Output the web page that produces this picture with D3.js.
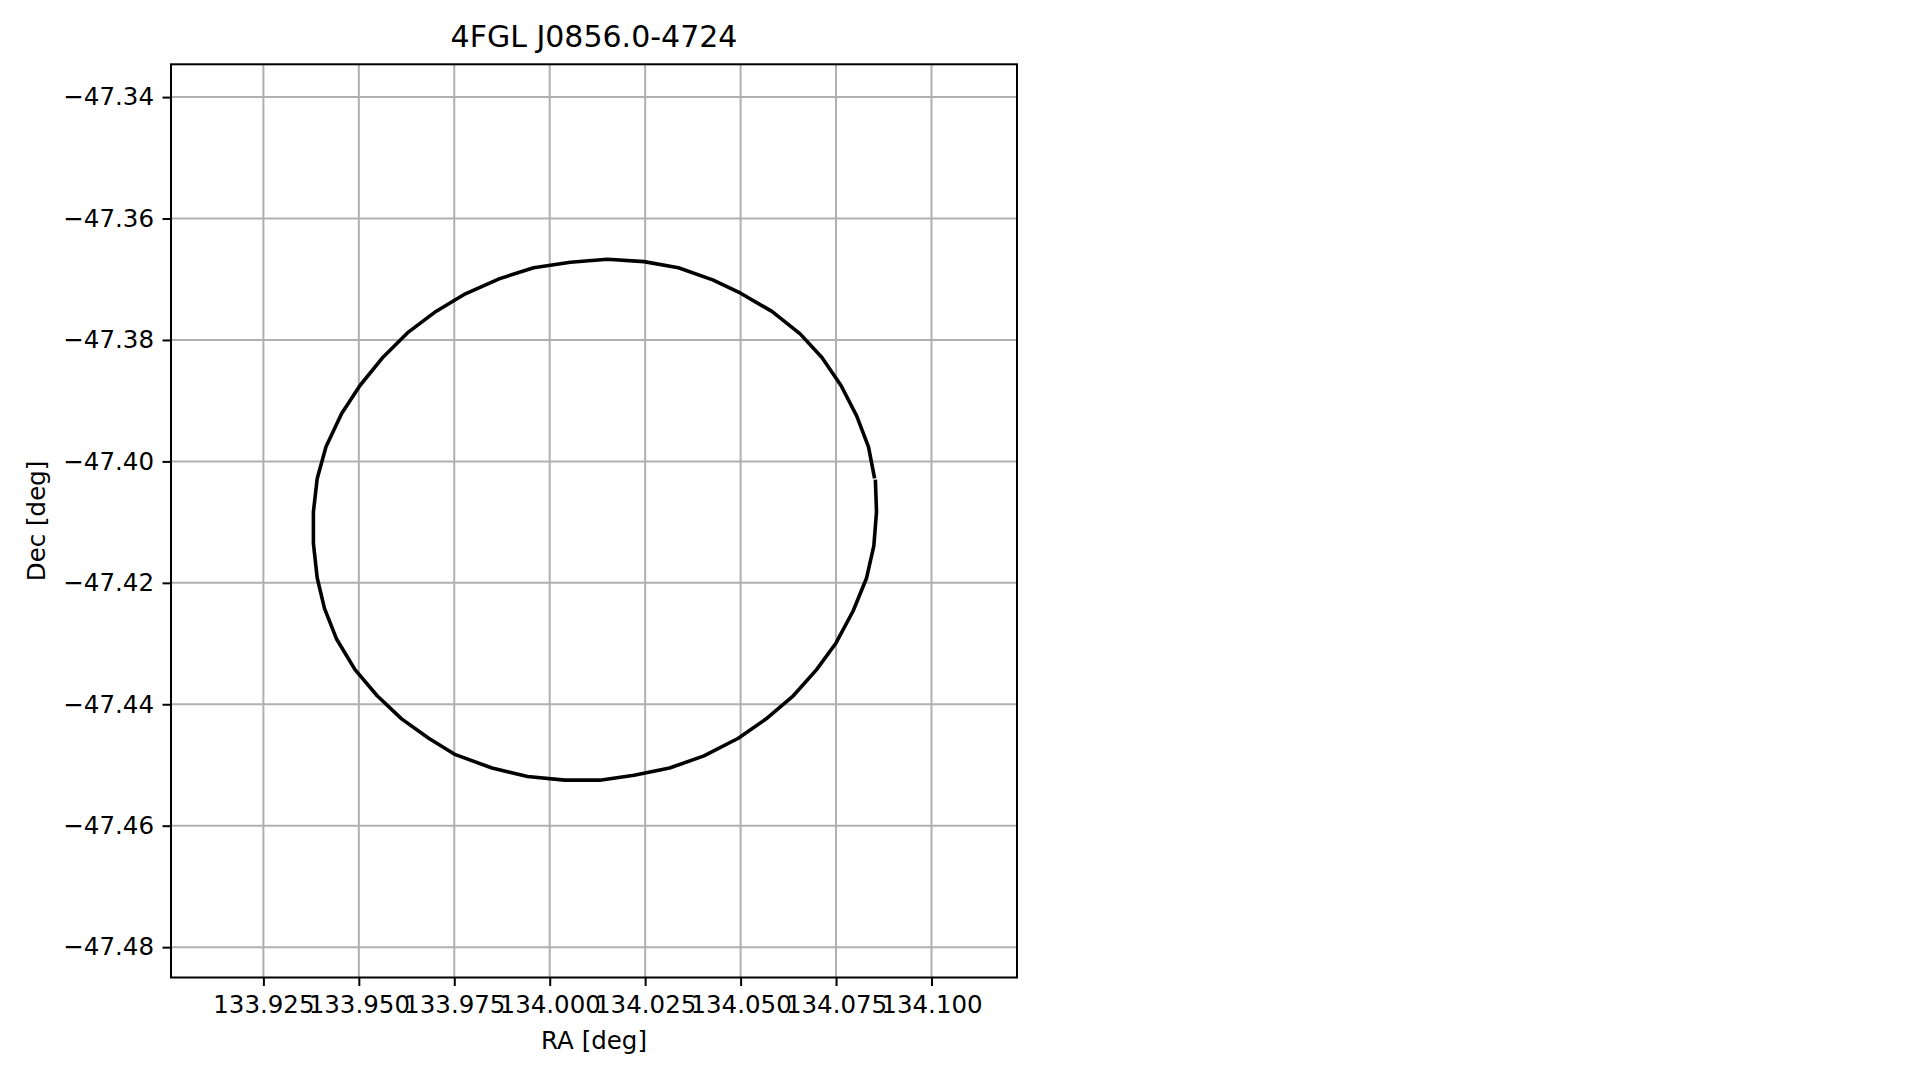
<!DOCTYPE html>
<html>
<head>
<meta charset="utf-8">
<script src="https://cdn.jsdelivr.net/npm/d3@7"></script>
<style>
  html, body { margin: 0; padding: 0; background: #ffffff; }
  svg { display: block; font-family: "DejaVu Sans", sans-serif; }
</style>
</head>
<body>
<svg id="chart" width="1919" height="1080"></svg>
<script>
// ---- data ----
const titleText = "4FGL J0856.0-4724";
const xLabelText = "RA [deg]";
const yLabelText = "Dec [deg]";

const xTicks = [133.925, 133.950, 133.975, 134.000, 134.025, 134.050, 134.075, 134.100];
const yTicks = [-47.34, -47.36, -47.38, -47.40, -47.42, -47.44, -47.46, -47.48];

const xDomain = [133.9008, 134.1224];
const yDomain = [-47.4850, -47.3346];

const raValues = [
  134.0851, 134.0835, 134.0804, 134.0763, 134.0713, 134.0656, 134.0582, 134.0500,
  134.0427, 134.0337, 134.0247, 134.0151, 134.0054, 133.9958, 133.9869, 133.9779,
  133.9702, 133.9628, 133.9564, 133.9503, 133.9455, 133.9414, 133.9391, 133.9381,
  133.9381, 133.9391, 133.9410, 133.9442, 133.9490, 133.9548, 133.9612, 133.9683,
  133.9753, 133.9849, 133.9942, 134.0039, 134.0131, 134.0221, 134.0314, 134.0404,
  134.0494, 134.0567, 134.0638, 134.0699, 134.0750, 134.0795, 134.0830, 134.0849,
  134.0856, 134.0853
];
const decValues = [
  -47.4028, -47.3976, -47.3925, -47.3875, -47.3829, -47.3790, -47.3753, -47.3723,
  -47.3701, -47.3681, -47.3671, -47.3667, -47.3672, -47.3681, -47.3699, -47.3724,
  -47.3753, -47.3788, -47.3828, -47.3875, -47.3921, -47.3976, -47.4028, -47.4083,
  -47.4135, -47.4192, -47.4242, -47.4293, -47.4343, -47.4386, -47.4424, -47.4456,
  -47.4483, -47.4505, -47.4519, -47.4525, -47.4525, -47.4517, -47.4505, -47.4485,
  -47.4456, -47.4424, -47.4386, -47.4343, -47.4299, -47.4246, -47.4192, -47.4139,
  -47.4083, -47.4030
];

// ---- layout ----
const plot = { left: 171, top: 64.3, right: 1017, bottom: 977.5 };
const tickFont = 24.5;

const svg = d3.select("#chart");
svg.append("rect").attr("width", 1919).attr("height", 1080).attr("fill", "#ffffff");

const x = d3.scaleLinear().domain(xDomain).range([plot.left, plot.right]);
const y = d3.scaleLinear().domain(yDomain).range([plot.bottom, plot.top]);

// grid
const grid = svg.append("g").attr("stroke", "#b0b0b0").attr("stroke-width", 2);
grid.selectAll("line.vx").data(xTicks).join("line").attr("class", "vx")
  .attr("x1", d => x(d)).attr("x2", d => x(d))
  .attr("y1", plot.top).attr("y2", plot.bottom);
grid.selectAll("line.hy").data(yTicks).join("line").attr("class", "hy")
  .attr("y1", d => y(d)).attr("y2", d => y(d))
  .attr("x1", plot.left).attr("x2", plot.right);

// ellipse outline
const pts = raValues.map((r, i) => [r, decValues[i]]);
svg.append("path")
  .datum(pts)
  .attr("fill", "none")
  .attr("stroke", "#000000")
  .attr("stroke-width", 3.6)
  .attr("stroke-linejoin", "round")
  .attr("stroke-linecap", "butt")
  .attr("d", d3.line().x(d => x(d[0])).y(d => y(d[1])));

// axes
const xAxis = svg.append("g")
  .attr("transform", `translate(0,${plot.bottom})`)
  .call(d3.axisBottom(x).tickValues(xTicks).tickFormat(d3.format(".3f"))
        .tickSize(8.5).tickPadding(10));
const yAxis = svg.append("g")
  .attr("transform", `translate(${plot.left},0)`)
  .call(d3.axisLeft(y).tickValues(yTicks).tickFormat(d3.format(".2f"))
        .tickSize(8.5).tickPadding(8.5));

[xAxis, yAxis].forEach(a => {
  a.select(".domain").remove();
  a.selectAll(".tick line").attr("stroke", "#000").attr("stroke-width", 2);
  a.selectAll(".tick text")
    .attr("fill", "#000")
    .style("font-family", "'DejaVu Sans', sans-serif")
    .style("font-size", tickFont + "px");
});

// frame
svg.append("rect")
  .attr("x", plot.left).attr("y", plot.top)
  .attr("width", plot.right - plot.left).attr("height", plot.bottom - plot.top)
  .attr("fill", "none").attr("stroke", "#000").attr("stroke-width", 2);

// title and labels
const cx = (plot.left + plot.right) / 2;
const cy = (plot.top + plot.bottom) / 2;
svg.append("text").attr("x", cx).attr("y", 47)
  .attr("text-anchor", "middle").style("font-size", "30px").attr("fill", "#000")
  .text(titleText);
svg.append("text").attr("x", cx).attr("y", 1048.5)
  .attr("text-anchor", "middle").style("font-size", tickFont + "px").attr("fill", "#000")
  .text(xLabelText);
svg.append("text")
  .attr("transform", `translate(44.5,${cy}) rotate(-90)`)
  .attr("text-anchor", "middle").style("font-size", tickFont + "px").attr("fill", "#000")
  .text(yLabelText);
</script>
</body>
</html>
